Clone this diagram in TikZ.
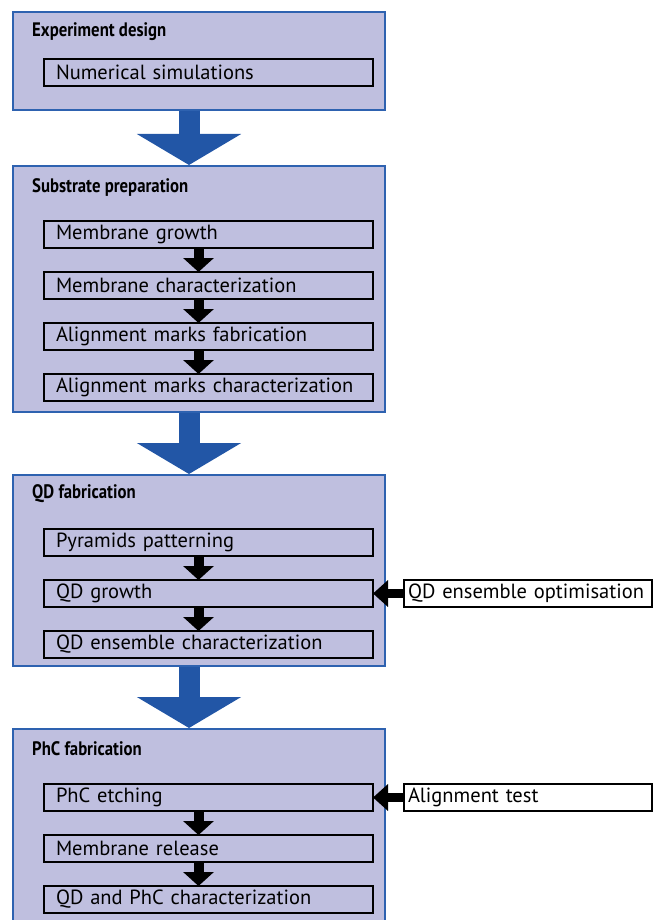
\documentclass[tikz,border=0pt]{standalone}
\usepackage{fontspec}
\setmainfont{PT Sans}
\newfontfamily\titlefont[FakeStretch=0.86]{PT Sans Bold}
\usetikzlibrary{arrows.meta, positioning}
\definecolor{stagefill}{RGB}{191,191,223}
\definecolor{stageblue}{RGB}{46,98,176}
\definecolor{flowblue}{RGB}{34,86,166}
\tikzstyle{stage}=[draw=stageblue, line width=2pt, fill=stagefill, anchor=north west, minimum width=372pt, inner sep=0pt]
\tikzstyle{stagetitle}=[anchor=west, inner sep=0pt, font=\titlefont\fontsize{19.5}{22}\selectfont]
\tikzstyle{stepbox}=[draw=black, line width=2.2pt, anchor=north west, outer sep=0pt, minimum height=27pt, inner xsep=12pt, inner ysep=0pt, text width=305pt, align=left, font=\fontsize{20.5}{24}\selectfont]
\tikzstyle{sidebox}=[stepbox, fill=white, inner xsep=4pt, text width=240pt]
\tikzstyle{bigflow}=[-{Triangle[width=103pt, length=31pt]}, line width=21pt, flowblue]
\tikzstyle{stepflow}=[-{Triangle[width=30pt, length=14pt]}, line width=10pt, black]
\tikzstyle{sideflow}=[-{Triangle[width=26pt, length=15pt]}, line width=9pt, black]

\begin{document}
\begin{tikzpicture}[x=1pt, y=-1pt]
    \useasboundingbox (0,0) rectangle (654,920);

    % Experiment design
    \node[stage, minimum height=98pt] (design) at (12,11) {};
    \node[stagetitle] (designtitle) at (32,32) {Experiment design};
    \node[stepbox] (sim) at (44,59) {Numerical simulations};

    % Substrate preparation
    \node[stage, minimum height=246pt] (substrate) at (12,165) {};
    \node[stagetitle] (substratetitle) at (32,187) {Substrate preparation};
    \node[stepbox] (growth) at (44,221) {Membrane growth};
    \node[stepbox, below=24pt of growth] (growthchar) {Membrane characterization};
    \node[stepbox, below=24pt of growthchar] (marks) {Alignment marks fabrication};
    \node[stepbox, below=24pt of marks] (markschar) {Alignment marks characterization};

    % QD fabrication
    \node[stage, minimum height=191pt] (qdfab) at (12,474) {};
    \node[stagetitle] (qdfabtitle) at (32,494) {QD fabrication};
    \node[stepbox] (pyramids) at (44,529) {Pyramids patterning};
    \node[stepbox, below=24pt of pyramids] (qdgrowth) {QD growth};
    \node[stepbox, below=24pt of qdgrowth] (qdchar) {QD ensemble characterization};
    \node[sidebox, anchor=west, right=31pt of qdgrowth] (optim) {QD ensemble optimisation};

    % PhC fabrication
    \node[stage, minimum height=215pt] (phcfab) at (12,728) {};
    \node[stagetitle] (phcfabtitle) at (32,749) {PhC fabrication};
    \node[stepbox] (etching) at (44,784) {PhC etching};
    \node[stepbox, below=24pt of etching] (release) {Membrane release};
    \node[stepbox, below=24pt of release] (phcchar) {QD and PhC characterization};
    \node[sidebox, anchor=west, right=31pt of etching] (aligntest) {Alignment test};

    % Stage to stage
    \draw[bigflow] ([xshift=-10pt]design.south) -- ([xshift=-10pt]substrate.north);
    \draw[bigflow] ([xshift=-10pt]substrate.south) -- ([xshift=-10pt]qdfab.north);
    \draw[bigflow] ([xshift=-10pt]qdfab.south) -- ([xshift=-10pt]phcfab.north);

    % Steps inside the stages
    \foreach \a/\b in {growth/growthchar, growthchar/marks, marks/markschar,
                       pyramids/qdgrowth, qdgrowth/qdchar, etching/release, release/phcchar}
        \draw[stepflow] ([xshift=-10pt]\a.south) -- ([xshift=-10pt]\b.north);

    % Feedback from the side
    \draw[sideflow] (optim.west) -- (qdgrowth.east);
    \draw[sideflow] (aligntest.west) -- (etching.east);
\end{tikzpicture}
\end{document}
